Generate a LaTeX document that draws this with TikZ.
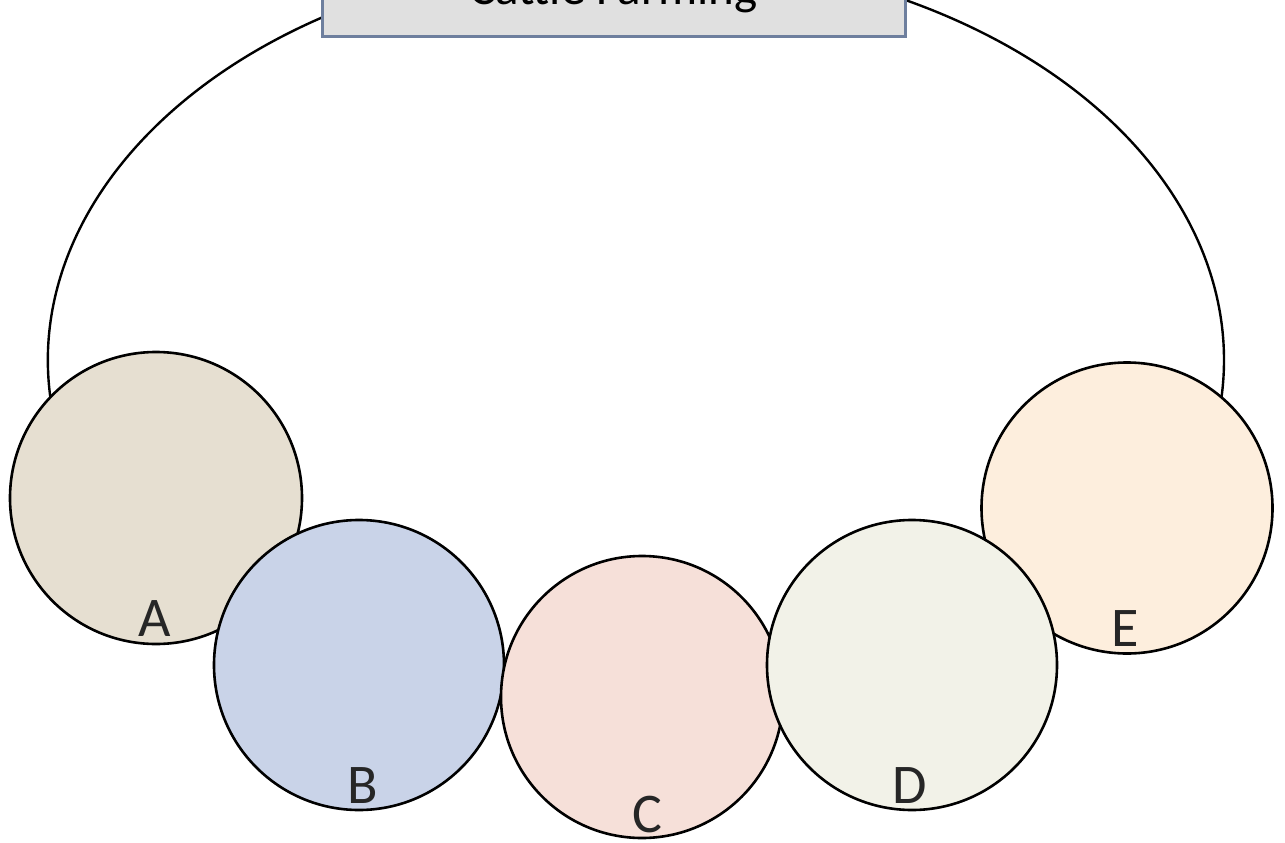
\documentclass[tikz,border=0pt]{standalone}
\usepackage{fontspec}
\setmainfont{Carlito}
\definecolor{cA}{HTML}{E6DFD1}
\definecolor{cB}{HTML}{C9D3E8}
\definecolor{cC}{HTML}{F6E0D9}
\definecolor{cD}{HTML}{F2F2E8}
\definecolor{cE}{HTML}{FDEEDD}
\definecolor{boxfill}{HTML}{E0E0E0}
\definecolor{boxline}{HTML}{6E7F9E}
\tikzset{
  bubble/.style={circle, draw=black, line width=2.6pt, minimum size=290pt, inner sep=0pt},
  lbl/.style={font=\fontsize{56}{60}\selectfont, text=black!85, anchor=base, inner sep=0pt},
}
\begin{document}
\begin{tikzpicture}[x=1pt,y=-1pt]
\useasboundingbox (0,0) rectangle (1285,843);
% big outer arc
\coordinate (O) at (636,360);
\draw[line width=2.4pt] ([shift={(200:588pt and 405pt)}]O) arc[start angle=200, end angle=-20, x radius=588pt, y radius=405pt];
% title box (cut at top of page)
\node[draw=boxline, line width=3pt, fill=boxfill, minimum width=583pt, minimum height=110pt, inner sep=0pt] (title) at (613.5,-18) {};
\node[anchor=base, font=\fontsize{49}{54}\selectfont, inner sep=0pt] (ttl) at (613.5,5) {Cattle Farming};
% circles
\node[bubble, fill=cA, minimum size=292pt] (A) at (156,498) {};
\node[bubble, fill=cE, minimum size=291pt] (E) at (1127,508) {};
\node[bubble, fill=cB, minimum size=290pt] (B) at (359,665) {};
\node[bubble, fill=cC, minimum size=282pt] (C) at (642,697) {};
\node[bubble, fill=cD, minimum size=290pt] (D) at (912,665) {};
% labels
\node[lbl] (lA) at (155,636) {A};
\node[lbl] (lB) at (363,803) {B};
\node[lbl] (lC) at (647,832) {C};
\node[lbl] (lD) at (910,803) {D};
\node[lbl] (lE) at (1125,646) {E};
\end{tikzpicture}
\end{document}
